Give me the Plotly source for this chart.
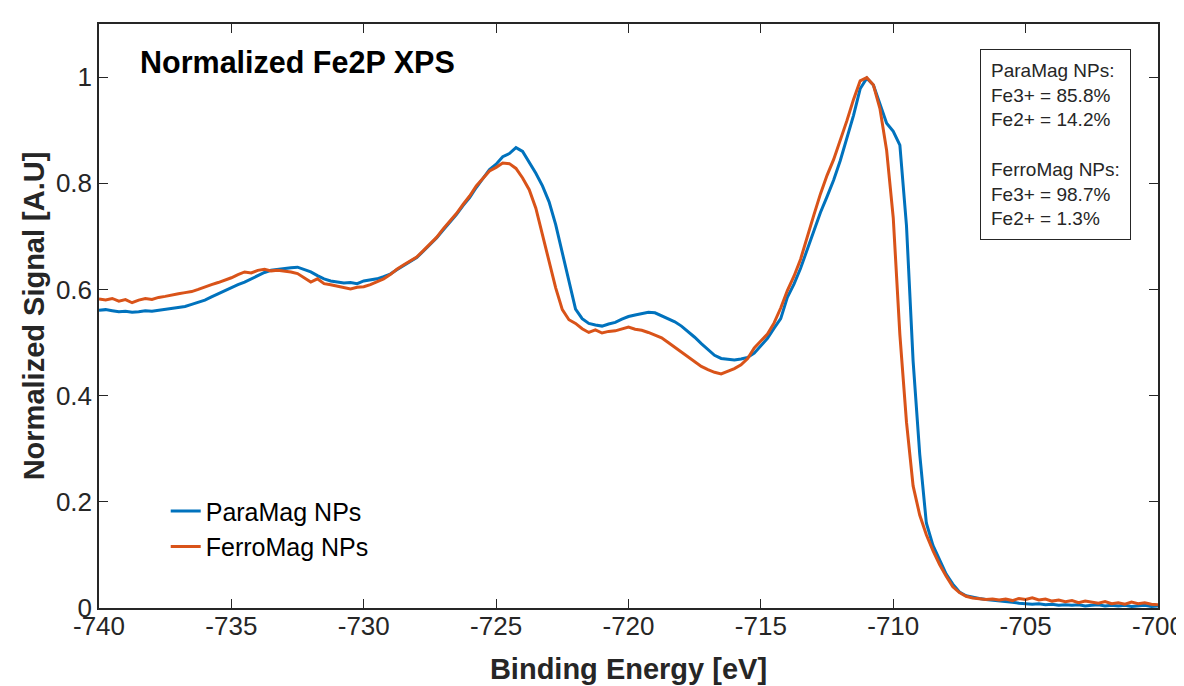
import numpy as np
import plotly.graph_objects as go

# Binding energy grid (eV), 0.25 eV steps
energy = np.linspace(-740, -700, 161)

paramag = [
    0.561, 0.562, 0.560, 0.558, 0.559, 0.557, 0.558, 0.560,
    0.559, 0.561, 0.563, 0.565, 0.567, 0.568, 0.572, 0.576,
    0.580, 0.586, 0.592, 0.598, 0.604, 0.609, 0.614, 0.620,
    0.627, 0.632, 0.636, 0.638, 0.639, 0.641, 0.642, 0.637,
    0.633, 0.626, 0.620, 0.616, 0.614, 0.612, 0.613, 0.611,
    0.616, 0.618, 0.620, 0.624, 0.629, 0.637, 0.645, 0.653,
    0.660, 0.672, 0.684, 0.697, 0.712, 0.726, 0.741, 0.758,
    0.773, 0.792, 0.808, 0.826, 0.836, 0.850, 0.856, 0.867,
    0.860, 0.840, 0.819, 0.795, 0.765, 0.722, 0.668, 0.612,
    0.563, 0.545, 0.536, 0.533, 0.531, 0.535, 0.538, 0.544,
    0.549, 0.552, 0.554, 0.557, 0.556, 0.550, 0.545, 0.539,
    0.531, 0.521, 0.510, 0.498, 0.487, 0.476, 0.470, 0.468,
    0.467, 0.469, 0.472, 0.480, 0.493, 0.508, 0.527, 0.545,
    0.585, 0.610, 0.640, 0.675, 0.712, 0.745, 0.775, 0.806,
    0.843, 0.886, 0.928, 0.978, 0.998, 0.985, 0.948, 0.913,
    0.898, 0.872, 0.720, 0.465, 0.290, 0.160, 0.118, 0.090,
    0.064, 0.045, 0.030, 0.023, 0.020, 0.018, 0.016, 0.015,
    0.013, 0.012, 0.011, 0.009, 0.008, 0.007, 0.008, 0.006,
    0.007, 0.005, 0.006, 0.005, 0.006, 0.004, 0.005, 0.006,
    0.004, 0.005, 0.004, 0.005, 0.003, 0.004, 0.005, 0.003,
    0.004,
]

ferromag = [
    0.582, 0.580, 0.583, 0.578, 0.581, 0.575, 0.580, 0.583,
    0.581, 0.585, 0.587, 0.590, 0.592, 0.594, 0.596, 0.600,
    0.605, 0.609, 0.613, 0.617, 0.622, 0.628, 0.633, 0.631,
    0.636, 0.638, 0.635, 0.636, 0.635, 0.633, 0.630, 0.622,
    0.614, 0.620, 0.611, 0.609, 0.606, 0.603, 0.601, 0.604,
    0.605, 0.609, 0.614, 0.620, 0.628, 0.638, 0.646, 0.654,
    0.661, 0.673, 0.686, 0.698, 0.714, 0.728, 0.743, 0.760,
    0.776, 0.795, 0.808, 0.823, 0.830, 0.838, 0.837, 0.828,
    0.810, 0.788, 0.753, 0.703, 0.652, 0.603, 0.562, 0.543,
    0.536, 0.526, 0.519, 0.524, 0.518, 0.521, 0.522, 0.526,
    0.529, 0.525, 0.523, 0.519, 0.514, 0.509, 0.500, 0.491,
    0.482, 0.472, 0.463, 0.455, 0.449, 0.444, 0.441, 0.446,
    0.451, 0.458, 0.470, 0.490, 0.503, 0.516, 0.537, 0.565,
    0.598, 0.625, 0.657, 0.700, 0.740, 0.780, 0.815, 0.845,
    0.880, 0.918, 0.958, 0.993, 0.999, 0.985, 0.940, 0.862,
    0.735, 0.515, 0.350, 0.230, 0.175, 0.138, 0.108, 0.082,
    0.060, 0.040, 0.029, 0.022, 0.019, 0.018, 0.016, 0.017,
    0.015, 0.017, 0.014, 0.018, 0.016, 0.019, 0.015, 0.017,
    0.013, 0.015, 0.012, 0.014, 0.010, 0.013, 0.011, 0.009,
    0.012, 0.008, 0.010, 0.007, 0.011, 0.008, 0.010, 0.007,
    0.006,
]

x_ticks = [-740, -735, -730, -725, -720, -715, -710, -705, -700]
x_ticktext = ["-740", "-735", "-730", "-725", "-720", "-715", "-710", "-705", "-700"]
y_ticks = [0, 0.2, 0.4, 0.6, 0.8, 1]
y_ticktext = ["0", "0.2", "0.4", "0.6", "0.8", "1"]

series_names = ["ParaMag NPs", "FerroMag NPs"]
series_colors = ["#0072BD", "#D95319"]

box_text = ("ParaMag NPs:<br>Fe3+ = 85.8%<br>Fe2+ = 14.2%<br><br>"
            "FerroMag NPs:<br>Fe3+ = 98.7%<br>Fe2+ = 1.3%")

FONT = "Liberation Sans, Arial, Helvetica, sans-serif"
AXC = "#262626"

fig = go.Figure()
for name, ys, col in zip(series_names, [paramag, ferromag], series_colors):
    fig.add_trace(go.Scatter(x=energy, y=ys, mode="lines", name=name,
                             line=dict(color=col, width=3)))

fig.update_layout(
    width=1184, height=686,
    margin=dict(l=91, r=34, t=16, b=86),
    paper_bgcolor="white", plot_bgcolor="white",
    font=dict(family=FONT, color="black"),
    showlegend=True,
    legend=dict(x=0.063, y=0.205, xanchor="left", yanchor="top",
                bgcolor="rgba(0,0,0,0)", font=dict(size=25, color="black"),
                tracegroupgap=0),
)

fig.update_xaxes(
    range=[-740, -700], tickvals=x_ticks, ticktext=x_ticktext,
    ticks="inside", ticklen=9, tickwidth=1.3, tickcolor=AXC,
    showline=True, linecolor=AXC, linewidth=1.5, mirror="ticks",
    showgrid=False, zeroline=False, automargin=False,
    ticklabelstandoff=-6,
    tickfont=dict(size=26, color=AXC, family=FONT),
    title=dict(text="<b>Binding Energy [eV]</b>", font=dict(size=29, color=AXC, family=FONT),
               standoff=19),
)
fig.update_yaxes(
    range=[0, 1.1], tickvals=y_ticks, ticktext=y_ticktext,
    ticks="inside", ticklen=9, tickwidth=1.3, tickcolor=AXC,
    showline=True, linecolor=AXC, linewidth=1.5, mirror="ticks",
    showgrid=False, zeroline=False, automargin=False,
    tickfont=dict(size=26, color=AXC, family=FONT),
    title=dict(text="<b>Normalized Signal [A.U]</b>", font=dict(size=29, color=AXC, family=FONT),
               standoff=3),
)

fig.add_annotation(
    x=0.037, y=0.935, xref="paper", yref="paper", xanchor="left", yanchor="middle",
    text="<b>Normalized Fe2P XPS</b>", showarrow=False,
    font=dict(size=30.5, color="black", family=FONT),
)
fig.add_annotation(
    x=0.9745, y=0.957, xref="paper", yref="paper", xanchor="right", yanchor="top",
    text=box_text, showarrow=False, align="left",
    font=dict(size=19, color=AXC, family=FONT),
    bordercolor=AXC, borderwidth=1, borderpad=10, bgcolor="white",
)

fig.write_html("out.html")
